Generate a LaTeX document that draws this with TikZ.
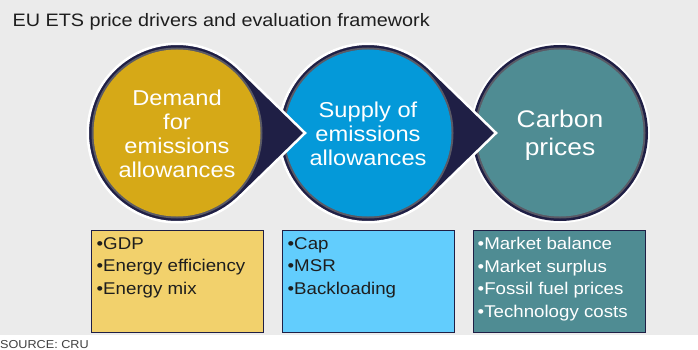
\documentclass[tikz,border=0pt]{standalone}
\usepackage{fontspec}
\setmainfont{Liberation Sans}[FakeStretch=1.1]
\usepackage{tikz}
\usetikzlibrary{positioning, calc}
\definecolor{cbg}{HTML}{EBEBEB}
\definecolor{cnavy}{HTML}{1F1F45}
\definecolor{cring}{HTML}{5A5A66}
\definecolor{cgold}{HTML}{D6A917}
\definecolor{cblue}{HTML}{0499D9}
\definecolor{cteal}{HTML}{4F8C93}
\definecolor{cgoldlight}{HTML}{F2D16C}
\definecolor{cbluelight}{HTML}{62CDFD}
\definecolor{ctext}{HTML}{1E1E1E}

\tikzset{
  ringtext/.style={align=center, text=white, inner sep=0pt},
  listbox/.style={draw=cnavy, line width=1pt, minimum width=172pt, minimum height=102pt, inner sep=0pt},
  listtext/.style={align=left, inner sep=0pt, font=\fontsize{17}{22.5}\selectfont},
}

\begin{document}
\begin{tikzpicture}[x=1pt, y=-1pt]

  %% Canvas
  \useasboundingbox (0,0) rectangle (698,350);
  \fill[cbg] (0,0) rectangle (698,335);
  \fill[white] (0,335) rectangle (698,350);

  %% Title
  \node[anchor=base west, inner sep=0pt, font=\fontsize{18}{22}\selectfont, text=ctext] (title) at (12.5,27)
    {EU ETS price drivers and evaluation framework};

  %% Circle centres
  \coordinate (dem) at (177,133);
  \coordinate (sup) at (368,133);
  \coordinate (car) at (560,133);

  %% Last circle: no tip
  \fill[white] (car) circle (90);
  \fill[cnavy] (car) circle (88);
  \fill[cring] (car) circle (85.5);
  \fill[cteal] (car) circle (83.5);

  %% Circles with tips, drawn right to left so each tip lies on the next circle
  \foreach \c/\col in {sup/cblue, dem/cgold}{
    \filldraw[draw=white, line width=2.5pt, line join=miter, fill=cnavy]
      ($(\c)+(46:89.25)$) arc[start angle=46, end angle=314, radius=89.25]
      -- ($(\c)+(128,0)$) -- cycle;
    \fill[cring] (\c) circle (85.5);
    \fill[\col] (\c) circle (83.5);
  }

  %% Circle labels
  \node[ringtext, font=\fontsize{21.5}{23.8}\selectfont] (demlabel) at (177,134)
    {Demand\\for\\emissions\\allowances};
  \node[ringtext, font=\fontsize{21.5}{23.8}\selectfont] (suplabel) at (368,134)
    {Supply of\\emissions\\allowances};
  \node[ringtext, font=\fontsize{24}{28}\selectfont] (carlabel) at (560,135)
    {Carbon\\prices};

  %% Driver boxes
  \node[listbox, fill=cgoldlight] (dembox) at (177,281) {};
  \node[listbox, fill=cbluelight] (supbox) at (368,281) {};
  \node[listbox, fill=cteal] (carbox) at (559,281) {};

  \node[listtext, text=ctext, below right=7.5pt and 6pt of dembox.north west] (demlist)
    {•GDP\\•Energy efficiency\\•Energy mix};
  \node[listtext, text=ctext, below right=7.5pt and 6pt of supbox.north west] (suplist)
    {•Cap\\•MSR\\•Backloading};
  \node[listtext, text=white, below right=7.5pt and 5pt of carbox.north west] (carlist)
    {•Market balance\\•Market surplus\\•Fossil fuel prices\\•Technology costs};

  %% Source
  \node[anchor=base west, inner sep=0pt, font=\fontsize{11.5}{13}\selectfont, text=ctext!85] (source) at (0,348)
    {SOURCE: CRU};

\end{tikzpicture}
\end{document}
